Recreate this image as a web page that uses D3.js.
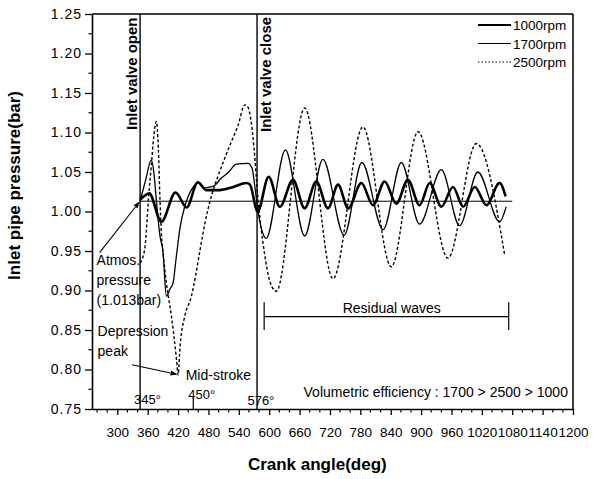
<!DOCTYPE html>
<html>
<head>
<meta charset="utf-8">
<script src="https://cdn.jsdelivr.net/npm/d3@7"></script>
<style>
body { margin: 0; background: #fff; }
text { font-family: Arial, "Liberation Sans", sans-serif; fill: #000; }
</style>
</head>
<body>
<script>
var margin = {top: 14, right: 20, bottom: 70, left: 92}
  , width = 593 - margin.left - margin.right
  , height = 479 - margin.top - margin.bottom;

// crank angle (deg) / inlet pipe pressure (bar)
var angle1000 = [345, 352, 363, 387, 415, 437, 459, 476, 502, 529, 555, 562, 577, 599, 621, 647, 670, 693, 716, 736,
    756, 782, 805, 828, 851, 874, 897, 917, 940, 963, 983, 1006, 1029, 1055, 1067];
var pres1000 = [1.015, 1.019, 1.023, 0.987, 1.024, 1.005, 1.037, 1.027, 1.027, 1.031, 1.036, 1.034, 1.000, 1.044, 1.006, 1.040, 1.004, 1.038, 1.004, 1.034,
    1.004, 1.036, 1.008, 1.038, 1.010, 1.040, 1.008, 1.036, 1.006, 1.031, 1.006, 1.031, 1.008, 1.036, 1.019];

var angle1700 = [345, 356, 367, 372, 377, 384, 390, 397, 404, 410, 416, 424, 433, 440, 450, 460, 470, 490, 505, 520,
    535, 558, 566, 572, 578, 586, 594, 632, 670, 706, 748, 783, 825, 861, 897, 940, 976, 1012, 1055, 1068];
var pres1700 = [1.013, 1.040, 1.065, 1.050, 1.015, 0.970, 0.950, 0.893, 0.902, 0.909, 0.940, 0.980, 1.006, 1.019, 1.031, 1.036, 1.030, 1.032, 1.042, 1.050,
    1.060, 1.061, 1.055, 1.030, 1.000, 0.975, 0.966, 1.078, 0.969, 1.066, 0.970, 1.062, 0.977, 1.062, 0.984, 1.053, 0.982, 1.050, 0.987, 1.006];

var angle2500 = [345, 354, 362, 367, 372, 377, 381, 384, 387, 390, 397, 407, 417, 420, 424, 433, 446, 455, 463, 473,
    486, 499, 512, 525, 538, 552, 558, 564, 570, 578, 590, 602, 614, 670, 726, 785, 841, 894, 953, 1009, 1065];
var pres2500 = [0.935, 0.952, 1.020, 1.057, 1.095, 1.114, 1.080, 1.020, 0.972, 0.950, 0.909, 0.867, 0.812, 0.793, 0.830, 0.867, 0.892, 0.920, 0.950, 0.985,
    1.020, 1.045, 1.067, 1.088, 1.108, 1.135, 1.132, 1.115, 1.080, 1.015, 0.950, 0.910, 0.899, 1.131, 0.915, 1.107, 0.930, 1.101, 0.941, 1.086, 0.945];

var xTickValues = [300, 360, 420, 480, 540, 600, 660, 720, 780, 840, 900, 960, 1020, 1080, 1140, 1200];
var yTickValues = [0.75, 0.80, 0.85, 0.90, 0.95, 1.00, 1.05, 1.10, 1.15, 1.20, 1.25];

var valveOpen = 345, valveClose = 576, midStroke = 450, atmos = 1.013;

var svg = d3.select("body").append("svg")
    .attr("width", width + margin.left + margin.right)
    .attr("height", height + margin.top + margin.bottom)
    .append("g")
    .attr("transform", "translate(" + margin.left + "," + margin.top + ")");

var x = d3.scaleLinear().domain([250, 1200]).range([0, width]);
var y = d3.scaleLinear().domain([0.75, 1.25]).range([height, 0]);

svg.append("defs").append("marker")
    .attr("id", "arrow")
    .attr("viewBox", "0 0 10 10")
    .attr("refX", 9).attr("refY", 5)
    .attr("markerWidth", 6).attr("markerHeight", 6)
    .attr("orient", "auto")
    .append("path").attr("d", "M0,1L10,5L0,9z").attr("fill", "#000");

// frame
svg.append("line").attr("x1", 0).attr("x2", width).attr("y1", 0).attr("y2", 0)
    .attr("stroke", "#000").attr("stroke-width", 1.5);
svg.append("line").attr("x1", width).attr("x2", width).attr("y1", 0).attr("y2", height)
    .attr("stroke", "#000").attr("stroke-width", 1.5);

// axes
var xAxis = svg.append("g")
    .attr("transform", "translate(0," + height + ")")
    .call(d3.axisBottom(x).tickValues(xTickValues).tickSize(6).tickSizeOuter(0).tickPadding(12).tickFormat(d3.format("d")));
xAxis.selectAll("text").style("font-size", "13.5px");

var yAxis = svg.append("g")
    .call(d3.axisLeft(y).tickValues(yTickValues).tickSize(7).tickSizeOuter(0).tickPadding(3).tickFormat(d3.format(".2f")));
yAxis.selectAll("text").style("font-size", "14px").style("letter-spacing", "1px");

svg.selectAll(".domain").attr("stroke-width", 1.6);
svg.selectAll(".tick line").attr("stroke-width", 1.3);

// minor ticks
svg.selectAll(".xminor")
    .data(d3.range(260, 1200, 20).filter(function(d) { return xTickValues.indexOf(d) < 0; }))
    .enter().append("line")
    .attr("x1", function(d) { return x(d); }).attr("x2", function(d) { return x(d); })
    .attr("y1", height).attr("y2", height + 3.5)
    .attr("stroke", "#000").attr("stroke-width", 1.2);
svg.selectAll(".yminor")
    .data(yTickValues.slice(1).map(function(d) { return d - 0.025; }))
    .enter().append("line")
    .attr("x1", -3.5).attr("x2", 0)
    .attr("y1", function(d) { return y(d); }).attr("y2", function(d) { return y(d); })
    .attr("stroke", "#000").attr("stroke-width", 1.2);

// axis titles
svg.append("text")
    .attr("text-anchor", "middle")
    .attr("transform", "translate(" + (-72) + "," + (y(1.033)) + ")rotate(-90)")
    .style("font-size", "17px").style("font-weight", "bold")
    .text("Inlet pipe pressure(bar)");
svg.append("text")
    .attr("text-anchor", "middle")
    .attr("x", x(695)).attr("y", height + 61)
    .style("font-size", "17px").style("font-weight", "bold")
    .text("Crank angle(deg)");

// valve lines and reference pressure
[valveOpen, valveClose].forEach(function(a) {
    svg.append("line").attr("x1", x(a)).attr("x2", x(a)).attr("y1", 0).attr("y2", height)
        .attr("stroke", "#000").attr("stroke-width", 1.4);
});
svg.append("line").attr("x1", x(midStroke)).attr("x2", x(midStroke)).attr("y1", height).attr("y2", height - 13)
    .attr("stroke", "#000").attr("stroke-width", 1.2);
svg.append("line").attr("x1", x(valveOpen)).attr("x2", x(1080)).attr("y1", y(atmos)).attr("y2", y(atmos))
    .attr("stroke", "#000").attr("stroke-width", 1);

// series
var line = d3.line()
    .x(function(d) { return x(d[0]); })
    .y(function(d) { return y(d[1]); })
    .curve(d3.curveMonotoneX);

var series = [
    {name: "1000rpm", a: angle1000, p: pres1000, w: 2.6, dash: null, legW: 1.8, legDash: null},
    {name: "1700rpm", a: angle1700, p: pres1700, w: 1.3, dash: null, legW: 1.1, legDash: null},
    {name: "2500rpm", a: angle2500, p: pres2500, w: 1.4, dash: "3,2.2", legW: 1.1, legDash: "1.5,2"}
];

series.forEach(function(s, i) {
    svg.append("path")
        .datum(d3.zip(s.a, s.p))
        .attr("fill", "none")
        .attr("stroke", "#000")
        .attr("stroke-width", s.w)
        .attr("stroke-dasharray", s.dash)
        .attr("stroke-linejoin", "round")
        .attr("d", line);

    // legend
    var ly = 11 + i * 18.5;
    svg.append("line").attr("x1", width - 95).attr("x2", width - 62).attr("y1", ly).attr("y2", ly)
        .attr("stroke", "#000").attr("stroke-width", s.legW)
        .attr("stroke-dasharray", s.legDash);
    svg.append("text").attr("x", width - 60).attr("y", ly + 5)
        .style("font-size", "13.5px").text(s.name);
});

// annotations
svg.append("text")
    .attr("transform", "translate(" + (x(valveOpen) - 3) + ",116)rotate(-90)")
    .style("font-size", "15px").style("font-weight", "bold")
    .text("Inlet valve open");
svg.append("text")
    .attr("transform", "translate(" + (x(valveClose) + 14) + ",118)rotate(-90)")
    .style("font-size", "15px").style("font-weight", "bold")
    .text("Inlet valve close");

svg.append("line")
    .attr("x1", x(265)).attr("y1", y(0.948)).attr("x2", x(valveOpen) - 1).attr("y2", y(atmos) + 1)
    .attr("stroke", "#000").attr("stroke-width", 1.1)
    .attr("marker-end", "url(#arrow)");
var atm = svg.append("text").style("font-size", "14px");
atm.append("tspan").attr("x", x(259)).attr("y", y(0.9325)).text("Atmos.");
atm.append("tspan").attr("x", x(259)).attr("y", y(0.907)).text("pressure");
atm.append("tspan").attr("x", x(259)).attr("y", y(0.882)).text("(1.013bar)");

var dep = svg.append("text").style("font-size", "14px");
dep.append("tspan").attr("x", x(261)).attr("y", y(0.842)).text("Depression");
dep.append("tspan").attr("x", x(261)).attr("y", y(0.817)).text("peak");
svg.append("line")
    .attr("x1", x(329)).attr("y1", y(0.806)).attr("x2", x(417)).attr("y2", y(0.794))
    .attr("stroke", "#000").attr("stroke-width", 1.1)
    .attr("marker-end", "url(#arrow)");
svg.append("text").attr("x", x(435)).attr("y", y(0.787))
    .style("font-size", "14px").text("Mid-stroke");

svg.append("text").attr("x", x(333)).attr("y", y(0.756)).style("font-size", "13px").text("345°");
svg.append("text").attr("x", x(440)).attr("y", y(0.763)).style("font-size", "13px").text("450°");
svg.append("text").attr("x", x(557)).attr("y", y(0.755)).style("font-size", "13px").text("576°");

// residual waves bracket
svg.append("line").attr("x1", x(590)).attr("x2", x(1073)).attr("y1", y(0.867)).attr("y2", y(0.867))
    .attr("stroke", "#000").attr("stroke-width", 1.3);
[590, 1073].forEach(function(a) {
    svg.append("line").attr("x1", x(a)).attr("x2", x(a)).attr("y1", y(0.885)).attr("y2", y(0.85))
        .attr("stroke", "#000").attr("stroke-width", 1.2);
});
svg.append("text").attr("x", x(842)).attr("y", y(0.8715)).attr("text-anchor", "middle")
    .style("font-size", "14px").text("Residual waves");

svg.append("text").attr("x", x(1190)).attr("y", y(0.7655)).attr("text-anchor", "end")
    .style("font-size", "14px").text("Volumetric efficiency : 1700 > 2500 > 1000");
</script>
</body>
</html>
